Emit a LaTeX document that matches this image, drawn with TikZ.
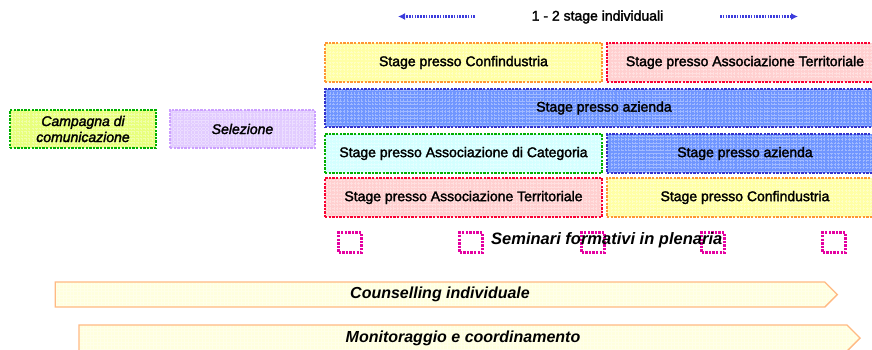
\documentclass[tikz,border=0pt]{standalone}
\usepackage{fontspec}
\setmainfont{Liberation Sans}
\newfontfamily\dfont{Liberation Sans}[FakeBold=2]
\usetikzlibrary{shapes.symbols,arrows.meta}

\definecolor{limeF}{RGB}{232,255,125}
\definecolor{greenB}{RGB}{0,175,0}
\definecolor{lilaF}{RGB}{226,204,255}
\definecolor{lilaB}{RGB}{204,160,255}
\definecolor{yelF}{RGB}{255,255,165}
\definecolor{orB}{RGB}{255,150,50}
\definecolor{pinkF}{RGB}{255,208,208}
\definecolor{redB}{RGB}{250,0,50}
\definecolor{blueF}{RGB}{112,150,255}
\definecolor{blueB}{RGB}{50,50,205}
\definecolor{cyanF}{RGB}{212,255,255}
\definecolor{magB}{RGB}{228,0,160}
\definecolor{creamF}{RGB}{255,255,222}
\definecolor{peachB}{RGB}{255,185,130}
\definecolor{arrB}{RGB}{60,60,220}

\begin{document}
\begin{tikzpicture}[x=1pt,y=-1pt]

\tikzstyle{box}=[rectangle,draw,line width=2.4pt,dash pattern=on 2.4pt off 1.2pt,inner sep=0pt,
  font=\dfont\fontsize{14}{16}\selectfont,
  path picture={\draw[white,opacity=0.35,line width=0.5pt,step=3.5pt]
    (path picture bounding box.south west) grid (path picture bounding box.north east);}]
\tikzstyle{lbox}=[box,minimum width=277,minimum height=39]
\tikzstyle{rbox}=[box,minimum width=276,minimum height=39]
\tikzstyle{ibox}=[box,minimum height=38,font=\dfont\itshape\fontsize{14}{16}\selectfont,align=center]
\tikzstyle{sq}=[rectangle,draw=magB,line width=2.2pt,dash pattern=on 2.4pt off 1.2pt,minimum width=23,minimum height=20,inner sep=0pt]
\tikzstyle{band}=[signal,signal to=east,draw=peachB,fill=creamF,line width=1.4pt,inner sep=0pt,
  font=\bfseries\itshape\fontsize{16}{18}\selectfont,
  path picture={\draw[white,opacity=0.35,line width=0.5pt,step=3.5pt]
    (path picture bounding box.south west) grid (path picture bounding box.north east);}]
\tikzstyle{arr}=[draw=arrB,line width=2.4pt,dash pattern=on 1.6pt off 1.2pt,-{Latex[length=7pt,width=7pt]}]

\useasboundingbox (0,0) rectangle (872,349);
\clip (0,0) rectangle (872,349);

% durata degli stage
\node (lab) at (597.5,17) {\dfont\fontsize{14}{16}\selectfont 1 - 2 stage individuali};
\coordinate (la) at (475,16.5);
\coordinate (lb) at (398,16.5);
\coordinate (ra) at (720,16.5);
\coordinate (rb) at (798,16.5);
\draw[arr] (la) -- (lb);
\draw[arr] (ra) -- (rb);

% fasi iniziali
\node[ibox,minimum width=146,draw=greenB,fill=limeF] (camp) at (83,129) {Campagna di\\comunicazione};
\node[ibox,minimum width=145,draw=lilaB,fill=lilaF] (sel) at (242.5,129) {Selezione};

% percorsi di stage
\node[lbox,draw=orB,fill=yelF]   (conf1) at (463.5,62.5) {Stage presso Confindustria};
\node[rbox,draw=redB,fill=pinkF] (terr1) at (745,62.5)   {Stage presso Associazione Territoriale};
\node[box,minimum width=558,minimum height=38,draw=blueB,fill=blueF] (az1) at (604,108) {Stage presso azienda};
\node[lbox,draw=greenB,fill=cyanF] (cat)  at (463.5,153.5) {Stage presso Associazione di Categoria};
\node[rbox,draw=blueB,fill=blueF]  (az2)  at (745,153.5)   {Stage presso azienda};
\node[lbox,draw=redB,fill=pinkF]   (terr2) at (463.5,197.5) {Stage presso Associazione Territoriale};
\node[rbox,draw=orB,fill=yelF]     (conf2) at (745,197.5)   {Stage presso Confindustria};

% seminari
\foreach \x [count=\i] in {350,471,593,713,834}
  \node[sq] (q\i) at (\x,242.5) {};
\node[anchor=west,inner sep=0pt,font=\bfseries\itshape\fontsize{16.5}{19}\selectfont] (sem) at (491,240) {Seminari formativi in plenaria};

% attivita trasversali
\node[band,minimum width=782,minimum height=25] (coun) at (440,294.5) {Counselling individuale};
\node[band,minimum width=781,minimum height=26] (mon)  at (463,338) {Monitoraggio e coordinamento};

\end{tikzpicture}
\end{document}
